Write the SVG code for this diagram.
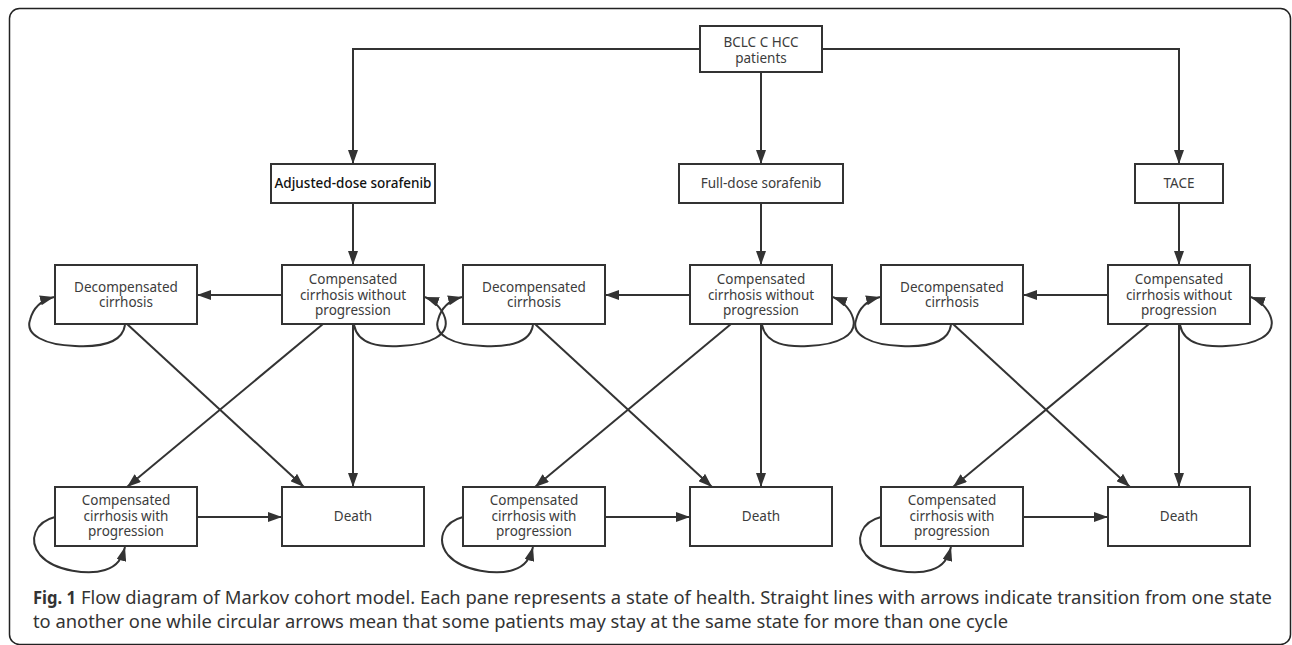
<svg xmlns="http://www.w3.org/2000/svg" width="1292" height="645" viewBox="0 0 1292 645">
<style>
.box{fill:#fff;stroke:#333;stroke-width:2}
.t{font-family:"Noto Sans","Open Sans",sans-serif;font-size:13.5px;fill:#3c3c3c;text-anchor:middle}
.tb{font-family:"Noto Sans","Open Sans",sans-serif;font-size:13.5px;fill:#111;text-anchor:middle;font-weight:500}
.ln{fill:none;stroke:#333;stroke-width:2}
.cap{font-family:"Noto Sans","Open Sans",sans-serif;font-size:18px;fill:#333}
</style>
<defs>
<marker id="ah" markerUnits="userSpaceOnUse" markerWidth="14" markerHeight="10" refX="14" refY="5" orient="auto">
<path d="M0,0 L14,5 L0,10 z" fill="#333"/>
</marker>
</defs>
<rect x="9.5" y="8.5" width="1281" height="636" rx="10" fill="none" stroke="#222" stroke-width="1.5"/>

<g id="connectors">
<path class="ln" d="M700,49 H353 V164" marker-end="url(#ah)"/>
<path class="ln" d="M822,49 H1179 V164" marker-end="url(#ah)"/>
<path class="ln" d="M761,72 V164" marker-end="url(#ah)"/>
<g id="pane1-links">
<path class="ln" d="M353,203 V265" marker-end="url(#ah)"/>
<path class="ln" d="M282,295 H197" marker-end="url(#ah)"/>
<path class="ln" d="M127,324 L304,487" marker-end="url(#ah)"/>
<path class="ln" d="M323,324 L127,487" marker-end="url(#ah)"/>
<path class="ln" d="M353,324 V487" marker-end="url(#ah)"/>
<path class="ln" d="M197,517 H282" marker-end="url(#ah)"/>
<path class="ln" d="M125,325 C122,345 95,347 75,346 C45,345 25,335 30,320 C33,308 42,300 54,297" marker-end="url(#ah)"/>
<path class="ln" d="M354,325 C358,345 380,347 400,346 C430,345 450,335 445,318 C442,308 433,300 425,297" marker-end="url(#ah)"/>
<path class="ln" d="M55,517 C35,522 28,540 40,555 C55,572 90,575 105,570 C118,566 122,558 125,547" marker-end="url(#ah)"/>
</g>
<g id="pane2-links" transform="translate(408,0)">
<path class="ln" d="M353,203 V265" marker-end="url(#ah)"/>
<path class="ln" d="M282,295 H197" marker-end="url(#ah)"/>
<path class="ln" d="M127,324 L304,487" marker-end="url(#ah)"/>
<path class="ln" d="M323,324 L127,487" marker-end="url(#ah)"/>
<path class="ln" d="M353,324 V487" marker-end="url(#ah)"/>
<path class="ln" d="M197,517 H282" marker-end="url(#ah)"/>
<path class="ln" d="M125,325 C122,345 95,347 75,346 C45,345 25,335 30,320 C33,308 42,300 54,297" marker-end="url(#ah)"/>
<path class="ln" d="M354,325 C358,345 380,347 400,346 C430,345 450,335 445,318 C442,308 433,300 425,297" marker-end="url(#ah)"/>
<path class="ln" d="M55,517 C35,522 28,540 40,555 C55,572 90,575 105,570 C118,566 122,558 125,547" marker-end="url(#ah)"/>
</g>
<g id="pane3-links" transform="translate(826,0)">
<path class="ln" d="M353,203 V265" marker-end="url(#ah)"/>
<path class="ln" d="M282,295 H197" marker-end="url(#ah)"/>
<path class="ln" d="M127,324 L304,487" marker-end="url(#ah)"/>
<path class="ln" d="M323,324 L127,487" marker-end="url(#ah)"/>
<path class="ln" d="M353,324 V487" marker-end="url(#ah)"/>
<path class="ln" d="M197,517 H282" marker-end="url(#ah)"/>
<path class="ln" d="M125,325 C122,345 95,347 75,346 C45,345 25,335 30,320 C33,308 42,300 54,297" marker-end="url(#ah)"/>
<path class="ln" d="M354,325 C358,345 380,347 400,346 C430,345 450,335 445,318 C442,308 433,300 425,297" marker-end="url(#ah)"/>
<path class="ln" d="M55,517 C35,522 28,540 40,555 C55,572 90,575 105,570 C118,566 122,558 125,547" marker-end="url(#ah)"/>
</g>
</g>

<g id="n-bclc"><rect class="box" x="700" y="26" width="122" height="46"/><text class="t" x="761" y="46.5">BCLC C HCC</text><text class="t" x="761" y="62.5">patients</text></g>
<g id="n-adjusted"><rect class="box" x="271" y="164" width="164" height="39"/><text class="tb" x="353" y="188">Adjusted-dose sorafenib</text></g>
<g id="n-full"><rect class="box" x="679" y="164" width="164" height="39"/><text class="t" x="761" y="188">Full-dose sorafenib</text></g>
<g id="n-tace"><rect class="box" x="1135" y="164" width="88" height="39"/><text class="t" x="1179" y="188">TACE</text></g>

<g id="p1-decomp"><rect class="box" x="55" y="265" width="142" height="59"/><text class="t" x="126" y="291.5">Decompensated</text><text class="t" x="126" y="307">cirrhosis</text></g>
<g id="p1-compwo"><rect class="box" x="282" y="265" width="142" height="59"/><text class="t" x="353" y="284">Compensated</text><text class="t" x="353" y="299.5">cirrhosis without</text><text class="t" x="353" y="315">progression</text></g>
<g id="p1-compw"><rect class="box" x="55" y="487" width="142" height="59"/><text class="t" x="126" y="505">Compensated</text><text class="t" x="126" y="520.5">cirrhosis with</text><text class="t" x="126" y="536">progression</text></g>
<g id="p1-death"><rect class="box" x="282" y="487" width="142" height="59"/><text class="t" x="353" y="521">Death</text></g>

<g id="p2-decomp"><rect class="box" x="463" y="265" width="142" height="59"/><text class="t" x="534" y="291.5">Decompensated</text><text class="t" x="534" y="307">cirrhosis</text></g>
<g id="p2-compwo"><rect class="box" x="690" y="265" width="142" height="59"/><text class="t" x="761" y="284">Compensated</text><text class="t" x="761" y="299.5">cirrhosis without</text><text class="t" x="761" y="315">progression</text></g>
<g id="p2-compw"><rect class="box" x="463" y="487" width="142" height="59"/><text class="t" x="534" y="505">Compensated</text><text class="t" x="534" y="520.5">cirrhosis with</text><text class="t" x="534" y="536">progression</text></g>
<g id="p2-death"><rect class="box" x="690" y="487" width="142" height="59"/><text class="t" x="761" y="521">Death</text></g>

<g id="p3-decomp"><rect class="box" x="881" y="265" width="142" height="59"/><text class="t" x="952" y="291.5">Decompensated</text><text class="t" x="952" y="307">cirrhosis</text></g>
<g id="p3-compwo"><rect class="box" x="1108" y="265" width="142" height="59"/><text class="t" x="1179" y="284">Compensated</text><text class="t" x="1179" y="299.5">cirrhosis without</text><text class="t" x="1179" y="315">progression</text></g>
<g id="p3-compw"><rect class="box" x="881" y="487" width="142" height="59"/><text class="t" x="952" y="505">Compensated</text><text class="t" x="952" y="520.5">cirrhosis with</text><text class="t" x="952" y="536">progression</text></g>
<g id="p3-death"><rect class="box" x="1108" y="487" width="142" height="59"/><text class="t" x="1179" y="521">Death</text></g>

<g id="caption">
<text class="cap" x="33" y="604" font-weight="bold" fill="#222" textLength="43" lengthAdjust="spacingAndGlyphs">Fig. 1</text>
<text class="cap" x="81" y="604" textLength="1191" lengthAdjust="spacingAndGlyphs">Flow diagram of Markov cohort model. Each pane represents a state of health. Straight lines with arrows indicate transition from one state</text>
<text class="cap" x="33" y="628" textLength="975" lengthAdjust="spacingAndGlyphs">to another one while circular arrows mean that some patients may stay at the same state for more than one cycle</text>
</g>
</svg>
